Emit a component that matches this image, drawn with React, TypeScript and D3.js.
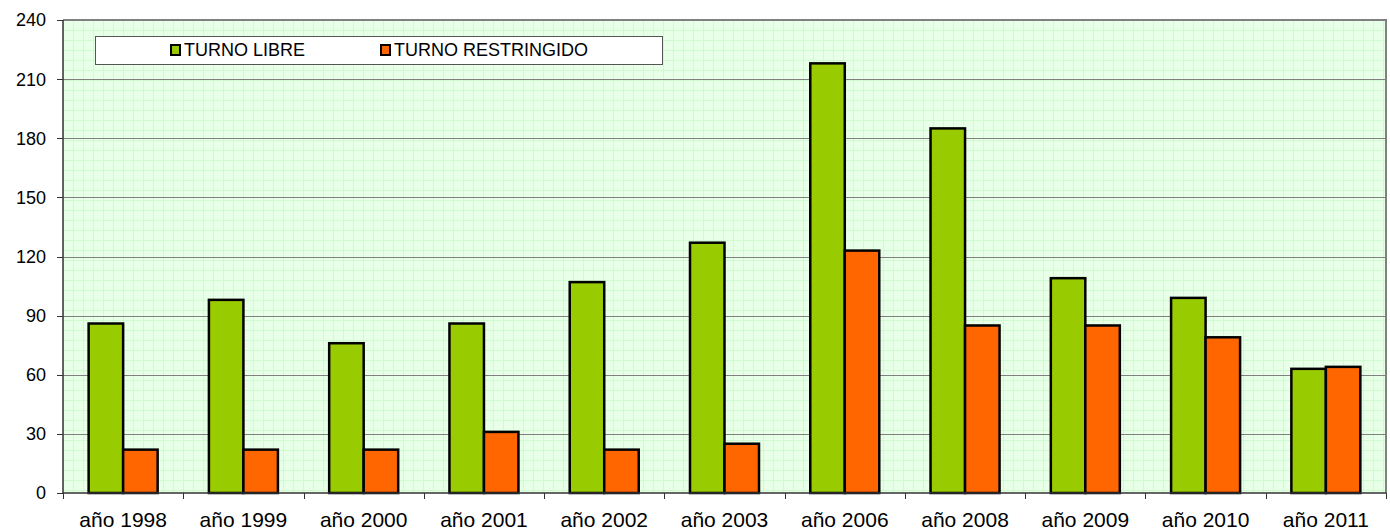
import React, { useEffect, useRef } from "react"
import * as d3 from "d3"

const categories = ["año 1998", "año 1999", "año 2000", "año 2001", "año 2002", "año 2003", "año 2006", "año 2008", "año 2009", "año 2010", "año 2011"]
const turnoLibre = [86, 98, 76, 86, 107, 127, 218, 185, 109, 99, 63]
const turnoRestringido = [22, 22, 22, 31, 22, 25, 123, 85, 85, 79, 64]
const yTicks = [0, 30, 60, 90, 120, 150, 180, 210, 240]
const seriesNames = ["TURNO LIBRE", "TURNO RESTRINGIDO"]
const seriesColors = ["#99cc00", "#ff6600"]

export default function App() {
  const ref = useRef<SVGSVGElement>(null)

  useEffect(() => {
    const svg = d3.select(ref.current)
    svg.selectAll("*").remove()

    const width = 1390
    const height = 530
    const m = { left: 63, right: 4, top: 20, bottom: 37 }
    const plotW = width - m.left - m.right
    const plotH = height - m.top - m.bottom
    const font = "Arial, 'Liberation Sans', sans-serif"

    const x = d3.scaleBand().domain(categories).range([m.left, m.left + plotW])
    const y = d3.scaleLinear().domain([0, 240]).range([m.top + plotH, m.top])

    // fondo con cuadricula fina
    const defs = svg.append("defs")
    const pat = defs.append("pattern")
      .attr("id", "grid")
      .attr("width", 10)
      .attr("height", 10)
      .attr("patternUnits", "userSpaceOnUse")
      .attr("x", m.left)
      .attr("y", m.top)
    pat.append("rect").attr("width", 10).attr("height", 10).attr("fill", "#e8ffe8")
    pat.append("path").attr("d", "M0,0.5H10M0.5,0V10").attr("stroke", "#d0fad0").attr("stroke-width", 1)

    svg.append("rect")
      .attr("x", m.left).attr("y", m.top)
      .attr("width", plotW).attr("height", plotH)
      .attr("fill", "url(#grid)")

    // lineas horizontales principales
    svg.append("g")
      .selectAll("line")
      .data(yTicks.filter(d => d > 0 && d < 240))
      .enter()
      .append("line")
      .attr("x1", m.left).attr("x2", m.left + plotW)
      .attr("y1", d => Math.round(y(d)) + 0.5).attr("y2", d => Math.round(y(d)) + 0.5)
      .attr("stroke", "#808080")

    // borde superior y derecho
    svg.append("path")
      .attr("d", `M${m.left},${m.top}H${m.left + plotW}V${m.top + plotH}`)
      .attr("fill", "none")
      .attr("stroke", "#808080")
      .attr("stroke-width", 2)

    // barras
    const barW = 34.5
    const groups = svg.append("g")
      .selectAll("g")
      .data(categories)
      .enter()
      .append("g")
      .attr("transform", d => `translate(${x(d)! + x.bandwidth() / 2},0)`)

    ;[turnoLibre, turnoRestringido].forEach((vals, s) => {
      groups.append("rect")
        .attr("x", s === 0 ? -barW : 0)
        .attr("y", (d, i) => y(vals[i]))
        .attr("width", barW)
        .attr("height", (d, i) => y(0) - y(vals[i]))
        .attr("fill", seriesColors[s])
        .attr("stroke", "#000")
        .attr("stroke-width", 2.5)
    })

    // eje Y
    svg.append("line")
      .attr("x1", m.left).attr("x2", m.left)
      .attr("y1", m.top).attr("y2", m.top + plotH)
      .attr("stroke", "#333").attr("stroke-width", 1.5)
    const yg = svg.append("g")
    yg.selectAll("line")
      .data(yTicks)
      .enter()
      .append("line")
      .attr("x1", m.left - 6).attr("x2", m.left)
      .attr("y1", d => Math.round(y(d)) + 0.5).attr("y2", d => Math.round(y(d)) + 0.5)
      .attr("stroke", "#333")
    yg.selectAll("text")
      .data(yTicks)
      .enter()
      .append("text")
      .attr("x", m.left - 17)
      .attr("y", d => y(d))
      .attr("dy", "0.36em")
      .attr("text-anchor", "end")
      .attr("font-family", font)
      .attr("font-size", 18)
      .attr("fill", "#000")
      .text(d => d)

    // eje X
    svg.append("line")
      .attr("x1", m.left).attr("x2", m.left + plotW)
      .attr("y1", m.top + plotH).attr("y2", m.top + plotH)
      .attr("stroke", "#333").attr("stroke-width", 1.5)
    const xg = svg.append("g")
    xg.selectAll("line")
      .data(categories.concat(["end"]))
      .enter()
      .append("line")
      .attr("x1", (d, i) => Math.round(m.left + i * x.step()) + 0.5)
      .attr("x2", (d, i) => Math.round(m.left + i * x.step()) + 0.5)
      .attr("y1", m.top + plotH).attr("y2", m.top + plotH + 6)
      .attr("stroke", "#333")
    xg.selectAll("text")
      .data(categories)
      .enter()
      .append("text")
      .attr("x", d => x(d)! + x.bandwidth() / 2)
      .attr("y", m.top + plotH + 34)
      .attr("text-anchor", "middle")
      .attr("font-family", font)
      .attr("font-size", 21)
      .attr("fill", "#000")
      .text(d => d)

    // leyenda
    const lg = svg.append("g")
    lg.append("rect")
      .attr("x", 95.5).attr("y", 36.5)
      .attr("width", 567).attr("height", 28)
      .attr("fill", "#fff")
      .attr("stroke", "#555")
    const legendX = [171, 381]
    seriesNames.forEach((name, s) => {
      lg.append("rect")
        .attr("x", legendX[s]).attr("y", 45)
        .attr("width", 9).attr("height", 10)
        .attr("fill", seriesColors[s])
        .attr("stroke", "#000")
        .attr("stroke-width", 2)
      lg.append("text")
        .attr("x", legendX[s] + 13)
        .attr("y", 50)
        .attr("dy", "0.36em")
        .attr("font-family", font)
        .attr("font-size", 18)
        .attr("fill", "#000")
        .text(name)
    })
  }, [])

  return <svg ref={ref} width={1390} height={530} style={{ display: "block", position: "absolute", left: 0, top: 0 }} />
}
